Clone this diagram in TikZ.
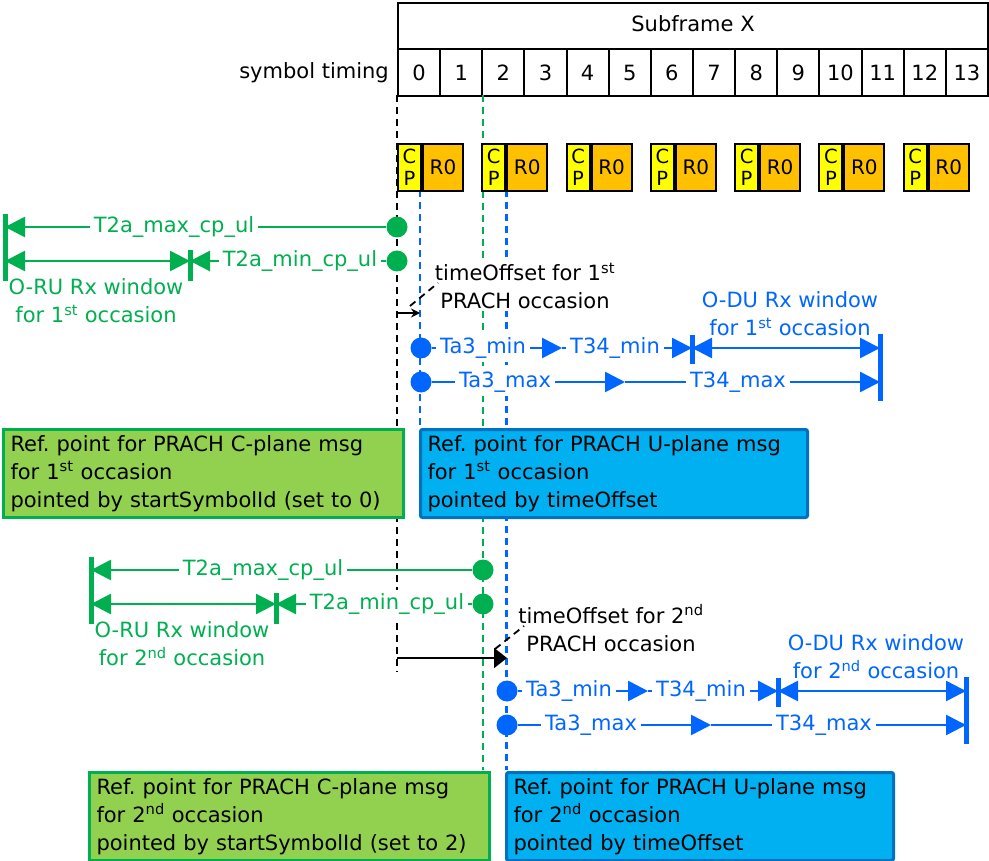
\documentclass[tikz,border=0pt]{standalone}
\usepackage{fontspec}
\setmainfont{DejaVu Sans}
\usetikzlibrary{arrows.meta}
\definecolor{gr}{HTML}{00B050}
\definecolor{bl}{HTML}{0066FF}
\definecolor{gfill}{HTML}{92D050}
\definecolor{bfill}{HTML}{00B0F0}
\definecolor{bdraw}{HTML}{0070C0}
\definecolor{cpy}{HTML}{FFFF00}
\definecolor{ror}{HTML}{FFC000}
\newcommand{\ordsup}[1]{\textsuperscript{#1}}
\frenchspacing
\tikzset{
  tbl/.style={draw, line width=2pt, inner sep=0pt},
  cpbox/.style={draw, line width=2pt, fill=cpy, minimum width=23pt, minimum height=47pt, inner sep=0pt, align=center, font=\fontsize{19.5}{22.5}\selectfont},
  rbox/.style={draw, line width=2pt, fill=ror, minimum width=40pt, minimum height=47pt, inner sep=0pt, font=\fontsize{20}{22}\selectfont},
  kdash/.style={draw=black, line width=2.2pt, dash pattern=on 7pt off 5pt},
  gdash/.style={draw=gr, line width=2.2pt, dash pattern=on 7pt off 5pt},
  bdash/.style={draw=bl, line width=2.2pt, dash pattern=on 7pt off 5pt},
  cdash/.style={draw=black, line width=1.8pt, dash pattern=on 7pt off 5pt},
  gln/.style={draw=gr, line width=2.6pt, >={Triangle[length=20pt,width=20pt]}},
  bln/.style={draw=bl, line width=2.6pt, >={Triangle[length=20pt,width=20pt]}},
  gbar/.style={draw=gr, line width=5pt},
  bbar/.style={draw=bl, line width=5pt},
  dotg/.style={circle, fill=gr, minimum size=21pt, inner sep=0pt},
  dotb/.style={circle, fill=bl, minimum size=21pt, inner sep=0pt},
  glab/.style={text=gr, fill=white, inner sep=4pt},
  blab/.style={text=bl, fill=white, inner sep=4pt},
  gtext/.style={text=gr, align=center, inner sep=0pt},
  btext/.style={text=bl, align=center, inner sep=0pt},
  klab/.style={fill=white, align=center, inner sep=2pt},
  gbox/.style={draw=gr, fill=gfill, line width=3pt, anchor=north west, text width=386pt, minimum height=88pt, inner xsep=7pt, align=left},
  bbox/.style={draw=bdraw, fill=bfill, line width=3pt, rounded corners=2pt, anchor=north west, text width=373pt, minimum height=88pt, inner xsep=7pt, align=left}
}
\begin{document}
\begin{tikzpicture}[x=1pt, y=-1pt, font=\fontsize{21}{28}\selectfont]
\useasboundingbox (0,0) rectangle (989,861);
% header table
\node[tbl, anchor=north west, minimum width=590pt, minimum height=46pt] (sf) at (397,2) {};
\node (sft) at ([yshift=2pt]sf.center) {Subframe X};
\foreach \i in {0,...,13} {
  \node[tbl, anchor=north west, minimum width=42.14pt, minimum height=47pt] (s\i) at ({397+42.14*\i},48) {\i};
}
\node[anchor=east, inner sep=0pt] (st) at (389,73) {symbol timing};
% vertical dashed reference lines
\coordinate (k0) at (397,95); \coordinate (k1) at (397,672);
\coordinate (gd0) at (483,95); \coordinate (gd1) at (483,770);
\coordinate (bd0) at (420,190); \coordinate (bd1) at (420,428);
\coordinate (be0) at (506.5,190); \coordinate (be1) at (506.5,770);
\draw[kdash] (k0) -- (k1);
\draw[gdash] (gd0) -- (gd1);
\draw[bdash] (bd0) -- (bd1);
\draw[bdash] (be0) -- (be1);
% CP / R0 symbols
\foreach \i in {0,...,6} {
  \node[cpbox, anchor=north west] (cp\i) at ({397+84.28*\i},143) {C\\P};
  \node[rbox, anchor=north west] (r\i) at (cp\i.north east) {R0};
}
% ---------- 1st occasion ----------
\coordinate (L1t) at (5,214); \coordinate (L1b) at (5,281);
\coordinate (M1t) at (190,250); \coordinate (M1b) at (190,281);
\coordinate (L1a) at (5,227); \coordinate (L1c) at (5,261); \coordinate (M1c) at (190,261);
\draw[gbar] (L1t) -- (L1b);
\draw[gbar] (M1t) -- (M1b);
\node[dotg] (g1a) at (397,227) {};
\node[dotg] (g1b) at (397,261) {};
\draw[gln,->] (g1a) -- (L1a);
\draw[gln,->] (g1b) -- (M1c);
\draw[gln,<->] (L1c) -- (M1c);
\node[glab] (t2amax1) at (174,227) {T2a\_max\_cp\_ul};
\node[glab] (t2amin1) at (300,261) {T2a\_min\_cp\_ul};
\node[gtext] (oru1) at (96,301) {O-RU Rx window\\for 1\ordsup{st} occasion};
% timeOffset 1
\coordinate (to1a) at (397,313); \coordinate (to1b) at (420,313);
\draw[line width=1.8pt, -{Stealth[length=9pt,width=9pt]}] (to1a) -- (to1b);
\node[klab] (to1l) at (525,286) {timeOffset for 1\ordsup{st}\\PRACH occasion};
\coordinate (c1a) at (410,306); \coordinate (c1b) at (438,283);
\draw[cdash] (c1a) -- (c1b);
% U-plane 1
\coordinate (p1) at (562,348); \coordinate (q1) at (625,382);
\coordinate (B1t) at (692,335); \coordinate (B1b) at (692,364); \coordinate (B1c) at (692,348);
\coordinate (B2t) at (880,334); \coordinate (B2b) at (880,401);
\coordinate (B2a) at (880,348); \coordinate (B2c) at (880,382);
\draw[bbar] (B1t) -- (B1b);
\draw[bbar] (B2t) -- (B2b);
\node[dotb] (b1a) at (421,348) {};
\node[dotb] (b1b) at (421,382) {};
\draw[bln,->] (b1a) -- (p1);
\draw[bln,->] (p1) -- (B1c);
\draw[bln,<->] (B1c) -- (B2a);
\draw[bln,->] (b1b) -- (q1);
\draw[bln,->] (q1) -- (B2c);
\node[blab] (ta3min1) at (483,348) {Ta3\_min};
\node[blab] (t34min1) at (615,348) {T34\_min};
\node[blab] (ta3max1) at (505,382) {Ta3\_max};
\node[blab] (t34max1) at (738,382) {T34\_max};
\node[btext] (odu1) at (790,314) {O-DU Rx window\\for 1\ordsup{st} occasion};
% boxes 1
\node[gbox] (gb1) at (2,428) {Ref. point for PRACH C-plane msg\\for 1\ordsup{st} occasion\\pointed by startSymbolId (set to 0)};
\node[bbox] (bb1) at (419,428) {Ref. point for PRACH U-plane msg\\for 1\ordsup{st} occasion\\pointed by timeOffset};
% ---------- 2nd occasion ----------
\begin{scope}[shift={(86,343)}]
\coordinate (L2t) at (5,214); \coordinate (L2b) at (5,281);
\coordinate (M2t) at (190,250); \coordinate (M2b) at (190,281);
\coordinate (L2a) at (5,227); \coordinate (L2c) at (5,261); \coordinate (M2c) at (190,261);
\draw[gbar] (L2t) -- (L2b);
\draw[gbar] (M2t) -- (M2b);
\node[dotg] (g2a) at (397,227) {};
\node[dotg] (g2b) at (397,261) {};
\draw[gln,->] (g2a) -- (L2a);
\draw[gln,->] (g2b) -- (M2c);
\draw[gln,<->] (L2c) -- (M2c);
\node[glab] (t2amax2) at (177,227) {T2a\_max\_cp\_ul};
\node[glab] (t2amin2) at (301,261) {T2a\_min\_cp\_ul};
\node[gtext] (oru2) at (96,301) {O-RU Rx window\\for 2\ordsup{nd} occasion};
\coordinate (p2) at (562,348); \coordinate (q2) at (625,382);
\coordinate (B3t) at (692,335); \coordinate (B3b) at (692,364); \coordinate (B3c) at (692,348);
\coordinate (B4t) at (880,334); \coordinate (B4b) at (880,401);
\coordinate (B4a) at (880,348); \coordinate (B4c) at (880,382);
\draw[bbar] (B3t) -- (B3b);
\draw[bbar] (B4t) -- (B4b);
\node[dotb] (b2a) at (421,348) {};
\node[dotb] (b2b) at (421,382) {};
\draw[bln,->] (b2a) -- (p2);
\draw[bln,->] (p2) -- (B3c);
\draw[bln,<->] (B3c) -- (B4a);
\draw[bln,->] (b2b) -- (q2);
\draw[bln,->] (q2) -- (B4c);
\node[blab] (ta3min2) at (483,348) {Ta3\_min};
\node[blab] (t34min2) at (615,348) {T34\_min};
\node[blab] (ta3max2) at (505,382) {Ta3\_max};
\node[blab] (t34max2) at (738,382) {T34\_max};
\node[btext] (odu2) at (790,314) {O-DU Rx window\\for 2\ordsup{nd} occasion};
\node[gbox] (gb2) at (2,428) {Ref. point for PRACH C-plane msg\\for 2\ordsup{nd} occasion\\pointed by startSymbolId (set to 2)};
\node[bbox] (bb2) at (419,428) {Ref. point for PRACH U-plane msg\\for 2\ordsup{nd} occasion\\pointed by timeOffset};
\end{scope}
% timeOffset 2
\coordinate (to2a) at (397,658); \coordinate (to2b) at (507,658);
\draw[line width=2pt, -{Triangle[length=13pt,width=20pt]}] (to2a) -- (to2b);
\node[klab] (to2l) at (611,628) {timeOffset for 2\ordsup{nd}\\PRACH occasion};
\coordinate (c2a) at (495,649); \coordinate (c2b) at (524,626);
\draw[cdash] (c2a) -- (c2b);
\end{tikzpicture}
\end{document}
